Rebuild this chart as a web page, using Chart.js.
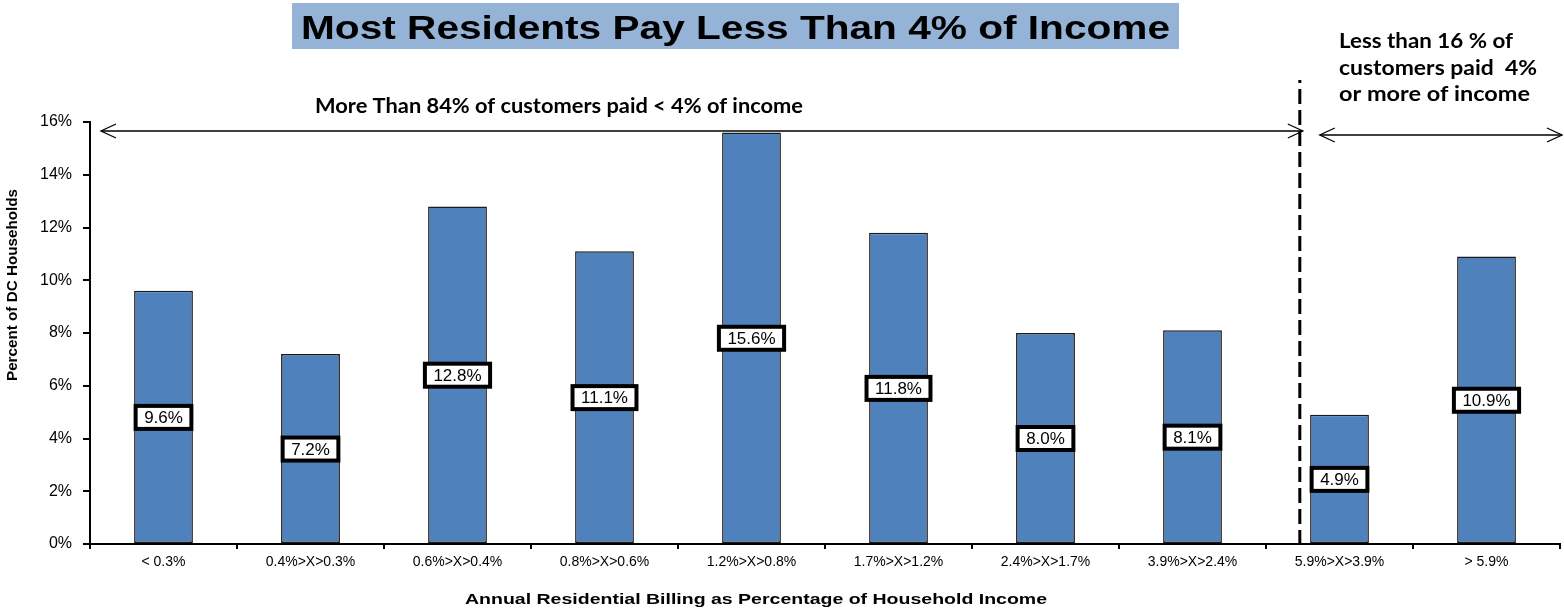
<!DOCTYPE html>
<html>
<head>
<meta charset="utf-8">
<script src="https://cdn.jsdelivr.net/npm/chart.js@4.4.1/dist/chart.umd.min.js"></script>
<style>
  html, body { margin: 0; padding: 0; background: #ffffff; }
  #wrap { width: 1564px; height: 608px; position: relative; }
</style>
</head>
<body>
<div id="wrap"><canvas id="c" width="1564" height="608"></canvas></div>
<script>
// Share of DC households by annual residential billing as % of household income
const categories = ['< 0.3%', '0.4%>X>0.3%', '0.6%>X>0.4%', '0.8%>X>0.6%', '1.2%>X>0.8%',
                    '1.7%>X>1.2%', '2.4%>X>1.7%', '3.9%>X>2.4%', '5.9%>X>3.9%', '> 5.9%'];
const householdShare = [9.6, 7.2, 12.8, 11.1, 15.6, 11.8, 8.0, 8.1, 4.9, 10.9];
const yTicks = [0, 2, 4, 6, 8, 10, 12, 14, 16];

const titleText = 'Most Residents Pay Less Than 4% of Income';
const leftNote = 'More Than 84% of customers paid < 4% of income';
const rightNote = ['Less than 16 % of', 'customers paid  4%', 'or more of income'];
const xTitle = 'Annual Residential Billing as Percentage of Household Income';
const yTitle = 'Percent of DC Households';

const ARIAL = '"Liberation Sans", Arial, sans-serif';
const CALIBRI = 'Lato, "Open Sans", sans-serif';

// draw text stretched horizontally to a given width
function fitText(ctx, text, x, y, font, width, align) {
  ctx.save();
  ctx.font = font;
  const w = ctx.measureText(text).width;
  ctx.translate(x, y);
  ctx.scale(width / w, 1);
  ctx.textAlign = align || 'left';
  ctx.fillText(text, 0, 0);
  ctx.restore();
}

function arrowHead(ctx, x, y, dir) {
  ctx.beginPath();
  ctx.moveTo(x - dir * 15, y - 7);
  ctx.lineTo(x, y);
  ctx.lineTo(x - dir * 15, y + 7);
  ctx.stroke();
}

function doubleArrow(ctx, x1, x2, y) {
  ctx.save();
  ctx.strokeStyle = '#000';
  ctx.lineWidth = 1.3;
  ctx.beginPath();
  ctx.moveTo(x1, y);
  ctx.lineTo(x2, y);
  ctx.stroke();
  arrowHead(ctx, x1, y, -1);
  arrowHead(ctx, x2, y, 1);
  ctx.restore();
}

const overlay = {
  id: 'overlay',
  afterDatasetsDraw(chart) {
    const ctx = chart.ctx;
    const meta = chart.getDatasetMeta(0);
    const y = chart.scales.y;
    ctx.save();
    ctx.font = '17px ' + ARIAL;
    meta.data.forEach((bar, i) => {
      const v = householdShare[i];
      const label = v.toFixed(1) + '%';
      const cy = y.getPixelForValue(v / 2);
      const tw = ctx.measureText(label).width;
      const bw = tw + 17, bh = 23;
      ctx.fillStyle = '#ffffff';
      ctx.fillRect(bar.x - bw / 2, cy - bh / 2, bw, bh);
      ctx.strokeStyle = '#000';
      ctx.lineWidth = 4;
      ctx.strokeRect(bar.x - bw / 2, cy - bh / 2, bw, bh);
      ctx.fillStyle = '#000';
      ctx.textAlign = 'center';
      ctx.textBaseline = 'middle';
      ctx.fillText(label, bar.x, cy + 1);
    });
    ctx.restore();
  },
  afterDraw(chart) {
    const ctx = chart.ctx;
    const xs = chart.scales.x;
    const area = chart.chartArea;
    const step = xs.getPixelForValue(1) - xs.getPixelForValue(0);

    // title banner
    ctx.save();
    ctx.fillStyle = '#95b3d7';
    ctx.fillRect(292, 3, 887, 46);
    ctx.fillStyle = '#000';
    ctx.textBaseline = 'alphabetic';
    fitText(ctx, titleText, 301, 39, 'bold 33px ' + ARIAL, 869, 'left');

    // 4% divider between the two groups
    const dx = xs.getPixelForValue(8) - 0.27 * step;
    ctx.strokeStyle = '#000';
    ctx.lineWidth = 3;
    ctx.setLineDash([15, 6]);
    ctx.lineDashOffset = 12;
    ctx.beginPath();
    ctx.moveTo(dx, 80);
    ctx.lineTo(dx, area.bottom + 4);
    ctx.stroke();
    ctx.setLineDash([]);

    // range arrows
    doubleArrow(ctx, area.left + 11, dx + 3, 131);
    doubleArrow(ctx, dx + 20, 1562, 135);

    // notes
    ctx.fillStyle = '#000';
    fitText(ctx, leftNote, 315, 113, 'bold 20px ' + CALIBRI, 488, 'left');
    const widths = [174, 198, 191];
    rightNote.forEach((t, i) => {
      fitText(ctx, t, 1339, 48 + i * 26.5, 'bold 20px ' + CALIBRI, widths[i], 'left');
    });

    // axis titles
    fitText(ctx, xTitle, 465, 604, 'bold 15px ' + ARIAL, 582, 'left');
    ctx.save();
    ctx.translate(17, 285);
    ctx.rotate(-Math.PI / 2);
    fitText(ctx, yTitle, 0, 0, 'bold 14px ' + ARIAL, 192, 'center');
    ctx.restore();
    ctx.restore();
  }
};

new Chart(document.getElementById('c'), {
  type: 'bar',
  data: {
    labels: categories,
    datasets: [{
      data: householdShare,
      backgroundColor: '#4f81bd',
      borderColor: '#1a1a1a',
      borderWidth: 1.5,
      borderSkipped: false,
      barPercentage: 0.4,
      categoryPercentage: 1.0
    }]
  },
  options: {
    responsive: false,
    animation: false,
    devicePixelRatio: 1,
    layout: { padding: { left: 0, right: 4, top: 122, bottom: 0 } },
    plugins: { legend: { display: false }, tooltip: { enabled: false }, title: { display: false } },
    scales: {
      x: {
        grid: { display: true, drawOnChartArea: false, drawTicks: true, tickLength: 5,
                color: '#000', lineWidth: 2, offset: true },
        border: { display: true, color: '#000', width: 2 },
        ticks: { color: '#000', font: { family: ARIAL, size: 14 }, padding: 5,
                 maxRotation: 0, autoSkip: false },
        afterFit(s) { s.height = 64; }
      },
      y: {
        min: 0, max: 16,
        afterBuildTicks(s) { s.ticks = yTicks.map(v => ({ value: v })); },
        grid: { display: true, drawOnChartArea: false, drawTicks: true, tickLength: 7,
                color: '#000', lineWidth: 2 },
        border: { display: true, color: '#000', width: 2 },
        ticks: { color: '#000', font: { family: ARIAL, size: 16 }, padding: 11,
                 callback: v => v + '%' },
        afterFit(s) { s.width = 90; }
      }
    }
  },
  plugins: [overlay]
});
</script>
</body>
</html>
